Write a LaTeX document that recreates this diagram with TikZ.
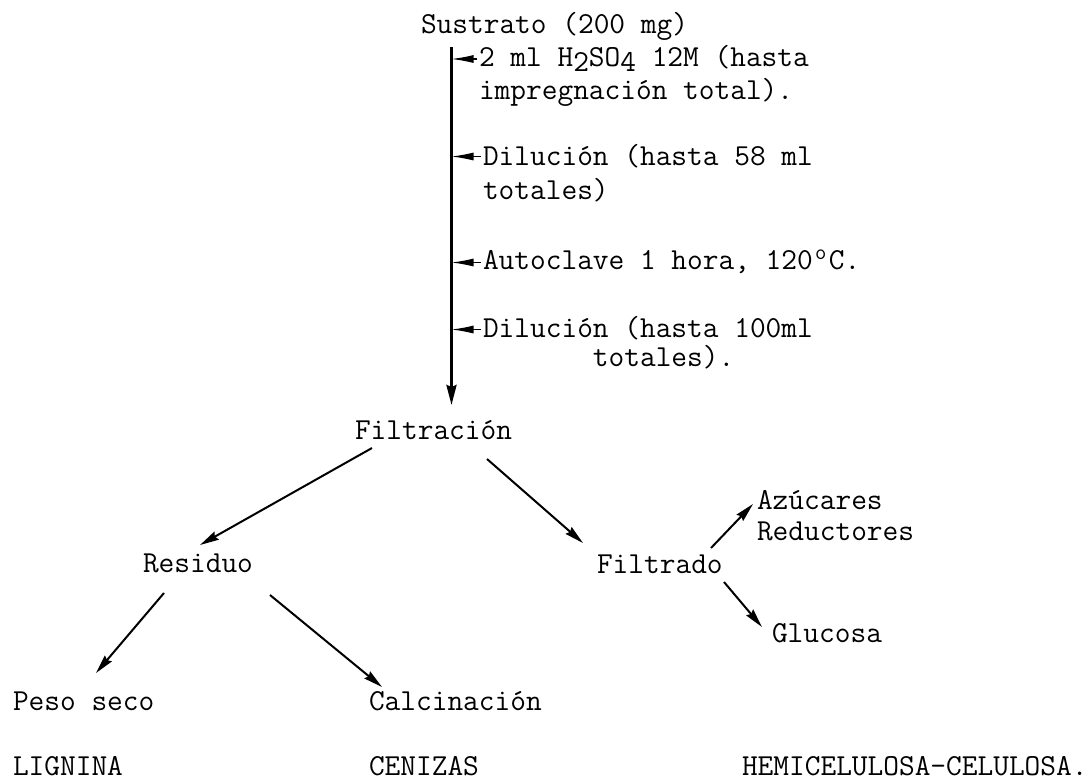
\documentclass[tikz,border=0pt]{standalone}
\usepackage{graphicx}
\usetikzlibrary{arrows.meta}
% raised small "o" of the degree sign, one typewriter cell wide
\newcommand\supo{\makebox[0.525em]{\raisebox{0.3em}{\scalebox{0.72}{o}}}}
% lowered full-size digit for chemical formulas
\newcommand\lowch[1]{\raisebox{-0.17em}{#1}}
\newcommand\lines[1]{\begin{tabular}[t]{@{}l@{}}#1\end{tabular}}

\begin{document}
\begin{tikzpicture}[x=1pt,y=-1pt,
  every node/.style={inner sep=0pt, outer sep=0pt, anchor=base west,
    font=\fontsize{30.5pt}{33pt}\selectfont\ttfamily},
  flow/.style={line width=2pt, -{Stealth[length=19pt,width=9pt,inset=2pt]}},
  trunkline/.style={line width=2.8pt, -{Stealth[length=20pt,width=10pt,inset=2pt]}},
  feed/.style={line width=1.2pt, -{Latex[length=22pt,width=8pt]}}]
\useasboundingbox (0,0) rectangle (1090,780);

% main sequence
\node (sus) at (421,33) {Sustrato (200 mg)};
\node (s1) at (479,66.5) {\lines{2 ml H\lowch{2}SO\lowch{4} 12M (hasta\\impregnación total).}};
\node (s2) at (483,165) {\lines{Dilución (hasta 58 ml\\[1pt]totales)}};
\node (s3) at (483,269) {Autoclave 1 hora, 120\supo C.};
\node (s4) at (483,337) {\lines{Dilución (hasta 100ml\\[-3.5pt]\phantom{Dilucio}totales).}};
\node (filt) at (355,439) {Filtración};

% branches
\node (res) at (143,572) {Residuo};
\node (fdo) at (597,573) {Filtrado};
\node (azu) at (757,509) {\lines{Azúcares\\[-2pt]Reductores}};
\node (glu) at (772,642) {Glucosa};
\node (peso) at (13,710) {Peso seco};
\node (calc) at (369,710) {Calcinación};

% results
\node (lig) at (13,775) {LIGNINA};
\node (cen) at (369,775) {CENIZAS};
\node (hem) at (742,775) {HEMICELULOSA-CELULOSA.};

% vertical trunk
\coordinate (trunk) at ([shift={(30.5,14)}]sus.base west);
\draw[trunkline] (trunk) -- ([shift={(96.5,-34)}]filt.base west);

% additions fed into the trunk
\coordinate (f1) at ([shift={(-2,-7.5)}]s1.base west);
\coordinate (f2) at ([shift={(-2,-8.5)}]s2.base west);
\coordinate (f3) at ([shift={(-2,-6.5)}]s3.base west);
\coordinate (f4) at ([shift={(-2,-7.5)}]s4.base west);
\foreach \f in {f1,f2,f3,f4}
  \draw[feed] (\f) -- (\f -| trunk);

% separation arrows
\draw[flow] ([shift={(17,9)}]filt.base west) -- ([shift={(57,-27)}]res.base west);
\draw[flow] ([shift={(132,20)}]filt.base west) -- ([shift={(-14,-30)}]fdo.base west);
\draw[flow] ([shift={(114,-25)}]fdo.base west) -- ([shift={(-4,-5)}]azu.base west);
\draw[flow] ([shift={(127,9)}]fdo.base west) -- ([shift={(-10,-15)}]glu.base west);
\draw[flow] ([shift={(21,21)}]res.base west) -- ([shift={(83,-37)}]peso.base west);
\draw[flow] ([shift={(127,23)}]res.base west) -- ([shift={(13,-23)}]calc.base west);
\end{tikzpicture}
\end{document}
